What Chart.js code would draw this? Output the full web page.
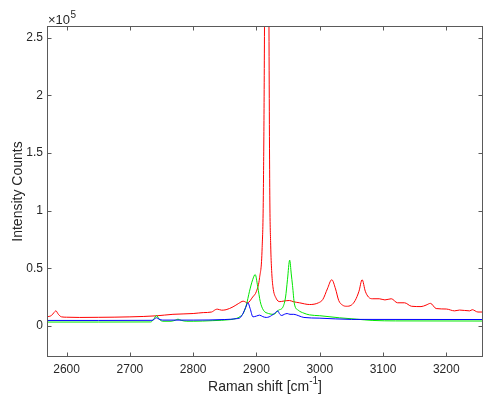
<!DOCTYPE html>
<html>
<head>
<meta charset="utf-8">
<script src="https://cdn.jsdelivr.net/npm/chart.js@4.4.1/dist/chart.umd.min.js"></script>
<style>
  html, body { margin: 0; padding: 0; background: #fff; }
  #wrap { width: 483px; height: 401px; }
</style>
</head>
<body>
<div id="wrap"><canvas id="c" width="483" height="401"></canvas></div>
<script>
// nilai intensitas dalam satuan 1e5 (label sumbu "x10^5")
const xRed = [2569, 2576, 2580, 2583, 2587, 2592, 2600, 2620, 2650, 2700, 2742, 2768, 2800, 2816, 2829, 2835, 2838, 2845, 2852, 2863,
              2872, 2879, 2886, 2894, 2900, 2905, 2909, 2911, 2913, 2916, 2919.5, 2921, 2922.5, 2924, 2926, 2931, 2937, 2942, 2947, 2952,
              2958, 2968, 2984, 2998, 3005, 3012, 3019, 3025, 3030, 3036, 3042, 3050, 3056, 3062, 3067, 3072, 3077, 3083, 3094, 3103,
              3113, 3123, 3134, 3145, 3160, 3168, 3175, 3184, 3200, 3213, 3221, 3237, 3241, 3250, 3258];
const yRed = [0.078, 0.09, 0.115, 0.13, 0.1, 0.078, 0.075, 0.073, 0.074, 0.078, 0.087, 0.1, 0.107, 0.115, 0.12, 0.14, 0.145, 0.136, 0.14, 0.165,
              0.195, 0.214, 0.2, 0.25, 0.3, 0.42, 0.68, 1.2, 3.0, 9.0, 3.0, 1.2, 0.7, 0.48, 0.34, 0.24, 0.21, 0.214, 0.218, 0.22,
              0.21, 0.2, 0.185, 0.2, 0.23, 0.32, 0.40, 0.32, 0.22, 0.18, 0.17, 0.18, 0.22, 0.3, 0.40, 0.3, 0.25, 0.235, 0.235, 0.225,
              0.235, 0.2, 0.2, 0.17, 0.167, 0.18, 0.195, 0.15, 0.146, 0.13, 0.137, 0.13, 0.14, 0.12, 0.12];

const xGreen = [2569, 2650, 2733, 2738, 2742, 2746, 2752, 2765, 2772, 2776, 2781, 2790, 2800, 2830, 2860, 2868, 2874, 2879, 2884, 2889,
                2894, 2898, 2902, 2906, 2911, 2919, 2927, 2935, 2942, 2946, 2949, 2952.5, 2955, 2957, 2960, 2966, 2975, 2984, 3000, 3031,
                3058, 3084, 3120, 3258];
const yGreen = [0.033, 0.033, 0.034, 0.06, 0.09, 0.06, 0.04, 0.04, 0.05, 0.058, 0.048, 0.04, 0.04, 0.045, 0.055, 0.064, 0.08, 0.107, 0.18, 0.3,
                0.4, 0.445, 0.34, 0.21, 0.136, 0.107, 0.1, 0.136, 0.165, 0.25, 0.4, 0.57, 0.45, 0.35, 0.19, 0.136, 0.11, 0.095, 0.088, 0.07,
                0.058, 0.047, 0.043, 0.042];

const xBlue = [2569, 2650, 2735, 2739, 2742, 2746, 2752, 2800, 2850, 2868, 2874, 2879, 2883, 2886.5, 2890, 2894.5, 2900, 2905, 2910, 2915.5,
               2920, 2924, 2929, 2933.5, 2937, 2940, 2944, 2948.5, 2953, 2959, 2963, 2967, 2975, 2999, 3050, 3258];
const yBlue = [0.047, 0.047, 0.048, 0.06, 0.07, 0.058, 0.05, 0.05, 0.055, 0.062, 0.07, 0.11, 0.16, 0.2, 0.15, 0.078, 0.085, 0.093, 0.08, 0.073,
               0.078, 0.09, 0.11, 0.13, 0.1, 0.09, 0.1, 0.107, 0.1, 0.1, 0.095, 0.087, 0.073, 0.067, 0.056, 0.055];

const xTicks = [2600, 2700, 2800, 2900, 3000, 3100, 3200];
const yTicks = [0, 0.5, 1, 1.5, 2, 2.5];

const FONT = '"Liberation Sans", Arial, Helvetica, sans-serif';
const TXT = '#262626';
const AXC = '#5a5a5a';

function pts(xs, ys) { return xs.map((x, i) => ({ x: x, y: ys[i] })); }

function ds(xs, ys, color, order) {
    return { data: pts(xs, ys), borderColor: color, borderWidth: 1, pointRadius: 0,
             fill: false, cubicInterpolationMode: 'monotone', order: order };
}

// KOMENTAR: kotak gaya MATLAB, tick ke dalam, judul sumbu dan label x10^5
const boxPlugin = {
    id: 'box',
    afterDraw(chart) {
        const { ctx, chartArea: a, scales } = chart;
        const L = Math.round(a.left) + 0.5, R = Math.round(a.right) - 0.5;
        const T = Math.round(a.top) + 0.5, B = Math.round(a.bottom) - 0.5;
        ctx.save();
        ctx.strokeStyle = AXC; ctx.lineWidth = 1;
        ctx.strokeRect(L, T, R - L, B - T);
        ctx.beginPath();
        xTicks.forEach(v => {
            const px = Math.round(scales.x.getPixelForValue(v)) + 0.5;
            ctx.moveTo(px, B); ctx.lineTo(px, B - 4);
            ctx.moveTo(px, T); ctx.lineTo(px, T + 4);
        });
        yTicks.forEach(v => {
            const py = Math.round(scales.y.getPixelForValue(v)) + 0.5;
            ctx.moveTo(L, py); ctx.lineTo(L + 4, py);
            ctx.moveTo(R, py); ctx.lineTo(R - 4, py);
        });
        ctx.stroke();

        ctx.fillStyle = TXT;
        // x10^5
        ctx.textBaseline = 'alphabetic'; ctx.textAlign = 'left';
        ctx.font = '13px ' + FONT;
        ctx.fillText('\u00d710', 48, 24);
        const w = ctx.measureText('\u00d710').width;
        ctx.font = '10px ' + FONT;
        ctx.fillText('5', 48 + w + 0.5, 18);

        // x title with superscript
        ctx.font = '14px ' + FONT;
        const s1 = 'Raman shift [cm', s3 = ']';
        const w1 = ctx.measureText(s1).width, w3 = ctx.measureText(s3).width;
        ctx.font = '10px ' + FONT;
        const w2 = ctx.measureText('-1').width;
        const cx = (a.left + a.right) / 2;
        let x0 = cx - (w1 + w2 + w3) / 2;
        const by = 391;
        ctx.font = '14px ' + FONT;
        ctx.fillText(s1, x0, by);
        ctx.font = '10px ' + FONT;
        ctx.fillText('-1', x0 + w1, by - 7);
        ctx.font = '14px ' + FONT;
        ctx.fillText(s3, x0 + w1 + w2, by);

        // y title
        ctx.translate(18, (a.top + a.bottom) / 2);
        ctx.rotate(-Math.PI / 2);
        ctx.textAlign = 'center'; ctx.textBaseline = 'middle';
        ctx.fillText('Intensity Counts', 0, 0);
        ctx.restore();
    }
};

new Chart(document.getElementById('c'), {
    type: 'line',
    data: {
        datasets: [
            ds(xRed, yRed, '#ff0000', 3),
            ds(xGreen, yGreen, '#00e600', 2),
            ds(xBlue, yBlue, '#0000ff', 1)
        ]
    },
    options: {
        responsive: false, animation: false, devicePixelRatio: 1,
        layout: { padding: { top: 26, right: 0, left: 0, bottom: 0 } },
        plugins: { legend: { display: false }, tooltip: { enabled: false } },
        scales: {
            x: {
                type: 'linear', min: 2569, max: 3258,
                grid: { display: false, drawTicks: false }, border: { display: false },
                afterBuildTicks: s => { s.ticks = xTicks.map(v => ({ value: v })); },
                afterFit: s => { s.height = 44; },
                ticks: { color: TXT, font: { family: FONT, size: 12 }, padding: 5, maxRotation: 0, autoSkip: false,
                         callback: v => String(v) }
            },
            y: {
                type: 'linear', min: -0.27, max: 2.6,
                grid: { display: false, drawTicks: false }, border: { display: false },
                afterBuildTicks: s => { s.ticks = yTicks.map(v => ({ value: v })); },
                afterFit: s => { s.width = 47; },
                ticks: { color: TXT, font: { family: FONT, size: 12 }, padding: 4, autoSkip: false,
                         callback: v => String(v) }
            }
        }
    },
    plugins: [boxPlugin]
});
</script>
</body>
</html>
